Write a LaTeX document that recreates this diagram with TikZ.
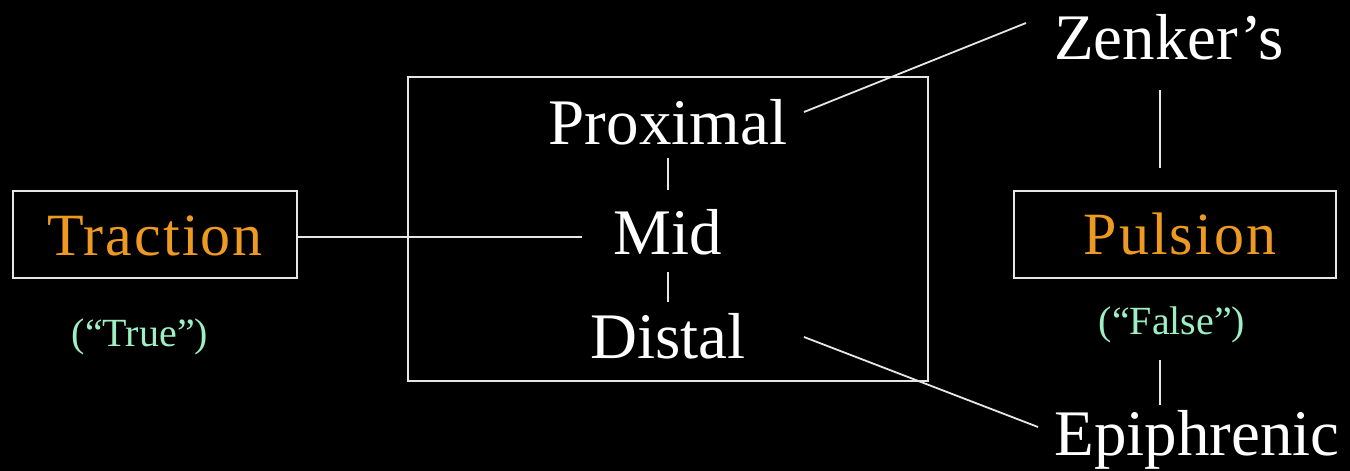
\documentclass[tikz,border=0pt]{standalone}
\usepackage{fontspec}
\setmainfont{Liberation Serif}
\definecolor{labelorange}{HTML}{EE9A22}
\definecolor{notegreen}{HTML}{9EF0C4}
\definecolor{linegray}{HTML}{E6E6E6}
\begin{document}
\begin{tikzpicture}[x=1pt,y=-1pt,
  frame/.style={draw=linegray,line width=1.8pt},
  link/.style={draw=linegray,line width=1.8pt},
  term/.style={text=white,inner sep=0pt,anchor=base,font=\fontsize{65}{70}\selectfont},
  kind/.style={text=labelorange,inner sep=0pt,anchor=base,font=\fontsize{60}{66}\selectfont\addfontfeature{LetterSpace=3.5}},
  note/.style={text=notegreen,inner sep=0pt,anchor=base,font=\fontsize{40}{44}\selectfont}]
  % black background fixing the page size
  \fill[black] (0,0) rectangle (1350,471);
  \useasboundingbox (0,0) rectangle (1350,471);

  % boxes
  \node[frame,minimum width=284pt,minimum height=87pt,inner sep=0pt] (tbox) at (155,234.5) {};
  \node[frame,minimum width=520pt,minimum height=304pt,inner sep=0pt] (sites) at (668,229) {};
  \node[frame,minimum width=322pt,minimum height=87pt,inner sep=0pt] (pbox) at (1175,234.5) {};

  % labels
  \node[kind] (traction) at (155,255) {Traction};
  \node[kind] (pulsion) at (1180,254) {Pulsion};
  \node[note] (true) at (140,346) {(“True”)};
  \node[note] (false) at (1172,334) {(“False”)};
  \node[term] (prox) at (668,144) {Proximal};
  \node[term] (mid) at (668,254) {Mid};
  \node[term] (dist) at (668,358) {Distal};
  \node[term] (zenker) at (1169,59) {Zenker’s};
  \node[term] (epi) at (1197,455) {Epiphrenic};

  % connector end points
  \coordinate (midin) at (582,237);
  \coordinate (p1) at (668,158);
  \coordinate (p2) at (668,190);
  \coordinate (d1) at (668,272);
  \coordinate (d2) at (668,302);
  \coordinate (zs) at (804,112);
  \coordinate (ze) at (1026,23);
  \coordinate (es) at (804,337);
  \coordinate (ee) at (1038,427);
  \coordinate (z1) at (1160,90);
  \coordinate (z2) at (1160,168);
  \coordinate (f1) at (1160,360);
  \coordinate (f2) at (1160,405);

  % connectors
  \draw[link] (tbox.east |- midin) -- (midin);
  \draw[link] (p1) -- (p2);
  \draw[link] (d1) -- (d2);
  \draw[link] (zs) -- (ze);
  \draw[link] (es) -- (ee);
  \draw[link] (z1) -- (z2);
  \draw[link] (f1) -- (f2);
\end{tikzpicture}
\end{document}
